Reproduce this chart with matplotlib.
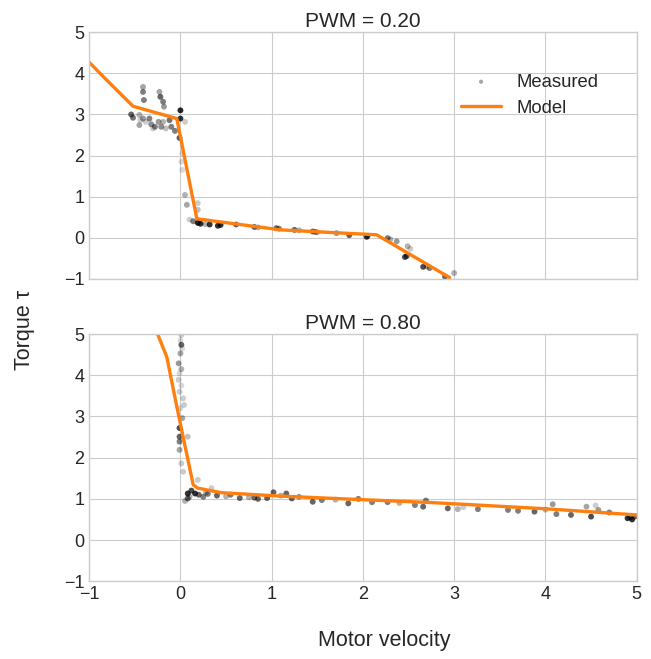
import matplotlib
matplotlib.use('agg')
import matplotlib.pyplot as plt
import numpy as np

plt.style.use('seaborn-v0_8-whitegrid')
plt.rcParams['font.family'] = ['Liberation Sans', 'DejaVu Sans']

# PWM = 0.20 measured points
vel_a = [-0.41, -0.41, -0.40, -0.23, -0.22, -0.19, -0.18, -0.54, -0.52, -0.45, -0.45, -0.41,
         -0.34, -0.32, -0.28, -0.24, -0.21, -0.19, -0.12, -0.10, -0.06, 0.00, 0.00, 0.05,
         -0.01, 0.01, 0.02, 0.05, 0.07, 0.10, 0.19, 0.19, 0.20,
         0.19, 0.22, 0.32, 0.41, 0.44, 0.61, 0.81, 1.05, 1.08, 1.25, 1.45, 1.48, 1.71, 1.85, 2.04, 2.05,
         2.27, 2.37, 2.49, 2.46, 2.48, 2.66, 2.73, 2.90, 3.00,
         -0.38, -0.16, -0.44, -0.30, 0.02, 0.14, 0.27, 0.85, 1.30, 1.50, 2.30, 2.52, 2.70]
tau_a = [3.67, 3.55, 3.35, 3.55, 3.43, 3.31, 3.19, 3.00, 2.92, 2.99, 2.74, 2.90,
         2.90, 2.76, 2.70, 2.82, 2.70, 2.82, 2.86, 2.70, 2.60, 3.10, 2.90, 2.82,
         2.43, 1.85, 1.65, 1.04, 0.80, 0.44, 0.84, 0.68, 0.36,
         0.36, 0.34, 0.32, 0.29, 0.31, 0.32, 0.26, 0.23, 0.22, 0.19, 0.15, 0.14, 0.11, 0.06, 0.02, 0.04,
         -0.01, -0.09, -0.21, -0.47, -0.45, -0.71, -0.74, -0.95, -0.86,
         2.82, 2.66, 2.86, 2.66, 2.05, 0.40, 0.33, 0.25, 0.18, 0.13, -0.04, -0.27, -0.70]
shade_a = [0.35, 0.5, 0.5, 0.35, 0.6, 0.5, 0.4, 0.6, 0.55, 0.3, 0.35, 0.4,
           0.5, 0.45, 0.5, 0.4, 0.45, 0.3, 0.55, 0.5, 0.5, 0.85, 0.8, 0.2,
           0.65, 0.15, 0.15, 0.3, 0.35, 0.2, 0.2, 0.25, 0.3,
           0.8, 0.8, 0.8, 0.8, 0.8, 0.6, 0.6, 0.6, 0.5, 0.6, 0.6, 0.5, 0.4, 0.6, 0.7, 0.6,
           0.5, 0.4, 0.3, 0.7, 0.6, 0.7, 0.5, 0.6, 0.3,
           0.2, 0.25, 0.2, 0.2, 0.12, 0.5, 0.3, 0.3, 0.3, 0.3, 0.3, 0.2, 0.3]

# PWM = 0.80 measured points
vel_b = [0.01, 0.01, 0.00, -0.02, 0.01, -0.02, -0.01, 0.03, 0.04, 0.02, -0.01, -0.01, -0.01,
         0.08, -0.01, 0.01, 0.03, 0.16, 0.08, 0.08, 0.25, 0.19, 0.34,
         0.12, 0.20, 0.30, 0.40, 0.55, 0.65, 0.81, 0.85, 0.95, 1.02, 1.16, 1.22, 1.30, 1.45,
         1.55, 1.84, 1.95, 2.10, 2.27, 2.57, 2.66, 2.69, 2.93, 3.04, 3.26, 3.59, 3.70, 3.88,
         4.08, 4.12, 4.28, 4.45, 4.50, 4.58, 4.70, 4.90, 4.95, 4.98,
         0.00, 0.02, -0.01, 0.01, 0.00, 0.05, 0.10, 0.28, 0.50, 0.75, 1.10, 1.70, 2.40, 3.10, 4.00, 4.55, 4.93]
tau_b = [4.98, 4.74, 4.53, 4.29, 4.15, 3.89, 3.60, 3.44, 3.28, 2.96, 2.72, 2.51, 2.39,
         2.51, 2.19, 1.86, 1.66, 1.13, 1.13, 1.01, 1.05, 1.46, 1.26,
         1.20, 1.10, 1.12, 1.08, 1.10, 1.02, 1.03, 1.00, 1.02, 1.16, 1.13, 1.01, 1.05, 0.93,
         0.97, 0.89, 1.00, 0.92, 0.92, 0.85, 0.81, 0.96, 0.77, 0.75, 0.75, 0.73, 0.71, 0.69,
         0.87, 0.63, 0.61, 0.81, 0.57, 0.73, 0.67, 0.53, 0.50, 0.57,
         4.85, 4.65, 4.05, 3.75, 3.20, 0.95, 1.05, 1.15, 1.06, 1.04, 1.08, 0.98, 0.90, 0.80, 0.74, 0.84, 0.55]
shade_b = [0.2, 0.6, 0.35, 0.4, 0.3, 0.2, 0.2, 0.2, 0.2, 0.35, 0.7, 0.6, 0.5,
           0.25, 0.35, 0.2, 0.2, 0.8, 0.8, 0.6, 0.5, 0.2, 0.2,
           0.7, 0.6, 0.5, 0.6, 0.5, 0.6, 0.6, 0.6, 0.6, 0.6, 0.6, 0.6, 0.4, 0.6,
           0.5, 0.6, 0.5, 0.5, 0.5, 0.5, 0.6, 0.5, 0.6, 0.3, 0.5, 0.5, 0.5, 0.6,
           0.4, 0.5, 0.6, 0.35, 0.7, 0.4, 0.5, 0.8, 0.8, 0.6,
           0.15, 0.15, 0.15, 0.15, 0.15, 0.3, 0.3, 0.3, 0.3, 0.3, 0.3, 0.3, 0.3, 0.2, 0.3, 0.2, 0.6]

# model curves
model_vel_a = [-1.0, -0.85, -0.52, -0.04, 0.18, 1.10, 2.15, 2.95]
model_tau_a = [4.27, 3.93, 3.20, 2.90, 0.46, 0.19, 0.07, -0.97]
model_vel_b = [-0.25, -0.15, -0.025, 0.14, 0.19, 0.45, 1.07, 2.00, 2.75, 4.00, 5.00]
model_tau_b = [5.00, 4.45, 3.08, 1.34, 1.26, 1.15, 1.07, 0.98, 0.91, 0.76, 0.61]

tick_text = ['\u22121', '0', '1', '2', '3', '4', '5']

fig = plt.figure(figsize=(6.51, 6.59), dpi=100)
ax1 = fig.add_axes([0.137, 0.577, 0.841, 0.374])
ax2 = fig.add_axes([0.137, 0.118, 0.841, 0.375])

panels = [(ax1, vel_a, tau_a, shade_a, model_vel_a, model_tau_a, 'PWM = 0.20'),
          (ax2, vel_b, tau_b, shade_b, model_vel_b, model_tau_b, 'PWM = 0.80')]
for ax, v, t, s, mv, mt, title in panels:
    cols = np.zeros((len(v), 4))
    cols[:, 3] = s
    ax.scatter(v, t, s=18, c=cols, edgecolors='none', label='Measured')
    ax.plot(mv, mt, color='#ff7f0e', lw=2.4, label='Model')
    ax.set_xlim(-1, 5)
    ax.set_ylim(-1, 5)
    ax.set_xticks(range(-1, 6))
    ax.set_yticks(range(-1, 6))
    ax.set_yticklabels(tick_text)
    ax.tick_params(labelsize=13)
    ax.set_title(title, fontsize=15, pad=4)
    for sp in ax.spines.values():
        sp.set_color('#cccccc')

ax1.set_xticklabels([])
ax2.set_xticklabels(tick_text)

leg = ax1.legend(loc='upper right', bbox_to_anchor=(0.96, 0.9), fontsize=13.3,
                 frameon=False, markerscale=0.7, handlelength=2.2)

fig.text(0.59, 0.012, 'Motor velocity', ha='center', va='bottom', fontsize=15.5)
fig.text(0.022, 0.5, 'Torque \u03c4', ha='left', va='center', rotation=90, fontsize=15.5)

plt.savefig('out.png')
